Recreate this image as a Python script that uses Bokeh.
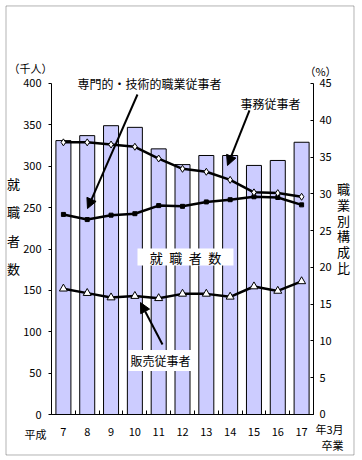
from bokeh.plotting import figure
from bokeh.models import Range1d, LinearAxis, FixedTicker, Label, Arrow, NormalHead, BoxAnnotation
from bokeh.embed import file_html
from bokeh.resources import INLINE

# ---- data ----
years = [7, 8, 9, 10, 11, 12, 13, 14, 15, 16, 17]
year_labels = ["7", "8", "9", "10", "11", "12", "13", "14", "15", "16", "17"]
employed = [331, 337, 349, 347, 321, 302, 313, 313, 301, 307, 329]          # 千人
jimu = [37.0, 37.0, 36.7, 36.4, 34.8, 33.4, 33.0, 31.9, 30.2, 30.1, 29.6]    # 事務従事者 %
senmon = [27.2, 26.5, 27.1, 27.3, 28.4, 28.3, 28.9, 29.2, 29.6, 29.5, 28.5]  # 専門的・技術的 %
hanbai = [17.1, 16.5, 15.9, 16.1, 15.8, 16.4, 16.4, 16.0, 17.4, 16.8, 18.1]  # 販売従事者 %
left_ticks = [0, 50, 100, 150, 200, 250, 300, 350, 400]
right_ticks = [0, 5, 10, 15, 20, 25, 30, 35, 40, 45]

FONT = "Noto Sans CJK JP"

# The frame covers the whole canvas; axes are placed with fixed_location/bounds
p = figure(width=358, height=458, output_backend="svg", toolbar_location=None, title=None,
           x_range=Range1d(4.3588, 19.389), y_range=Range1d(-53.17, 500.3),
           min_border=0, min_border_left=0, min_border_right=0,
           min_border_top=0, min_border_bottom=0)
p.outline_line_color = None
p.grid.visible = False
p.background_fill_color = "white"
p.border_fill_color = "white"
p.extra_y_ranges = {"pct": Range1d(-5.982, 56.284)}

# x axis
xa = p.xaxis[0]
xa.fixed_location = 0
xa.bounds = (6.5, 17.5)
xa.ticker = FixedTicker(ticks=years, minor_ticks=[y - 0.5 for y in years] + [years[-1] + 0.5])
xa.major_label_overrides = {y: l for y, l in zip(years, year_labels)}
xa.major_tick_line_color = None
xa.major_tick_out = 0
xa.major_tick_in = 0
xa.minor_tick_in = 4
xa.minor_tick_out = 0
xa.minor_tick_line_color = "black"
xa.major_label_standoff = 13

# left axis
ya = p.yaxis[0]
ya.fixed_location = 6.5
ya.bounds = (0, 400)
ya.ticker = FixedTicker(ticks=left_ticks)
ya.major_tick_out = 3
ya.major_tick_in = 0
ya.minor_tick_line_color = None
ya.major_label_standoff = 7

# right axis
ra = LinearAxis(y_range_name="pct", ticker=FixedTicker(ticks=right_ticks))
ra.fixed_location = 17.5
ra.bounds = (0, 45)
ra.major_tick_in = 3
ra.major_tick_out = 0
ra.minor_tick_line_color = None
ra.major_label_standoff = 6
p.add_layout(ra, "right")

for ax in (xa, ya, ra):
    ax.major_label_text_font = FONT
    ax.major_label_text_font_size = "11px"
    ax.major_label_text_color = "black"
    ax.axis_line_color = "black"
    ax.major_tick_line_color = ax.major_tick_line_color and "black"

# bars
p.vbar(x=years, top=employed, width=0.63, fill_color="#CCCCFF", line_color="black", line_width=1)

# lines
LW = 2.5
p.line(years, senmon, y_range_name="pct", line_color="black", line_width=LW)
p.scatter(years, senmon, y_range_name="pct", marker="square", size=4, fill_color="black", line_color="black")
p.line(years, jimu, y_range_name="pct", line_color="black", line_width=LW)
p.scatter(years, jimu, y_range_name="pct", marker="diamond", size=7, fill_color="white", line_color="black", line_width=1)
p.line(years, hanbai, y_range_name="pct", line_color="black", line_width=LW)
p.scatter(years, hanbai, y_range_name="pct", marker="triangle", size=8, fill_color="white", line_color="black", line_width=1)

# white box behind 就職者数
p.add_layout(BoxAnnotation(left=10.11, right=14.14, bottom=180.1, top=200.6,
                           fill_color="white", fill_alpha=1, line_color=None))

def lab(x, y, t, size="12px", align="left", **kw):
    p.add_layout(Label(x=x, y=y, text=t, text_font=FONT, text_font_size=size,
                       text_align=align, text_baseline="middle", text_color="black", **kw))

lab(12.126, 190.3, "就\u2002職\u2002者\u2002数", size="13px", align="center")
lab(4.695, 419.3, "（千人）", size="11px")
lab(17.121, 415.7, "（%）", size="11px")
lab(7.59, 400.0, "専門的・技術的職業従事者")
lab(14.435, 375.8, "事務従事者")
lab(9.733, 65.3, "販売従事者", background_fill_color="white", padding=2)
lab(5.367, -23.0, "平成", size="11px")
lab(18.76, -18.1, "年3月", size="11px", align="right")
lab(18.76, -36.3, "卒業", size="11px", align="right")

for i, ch in enumerate("就職者数"):
    lab(4.905, 279.2 - i * 34.3, ch, size="13px", align="center")
for i, ch in enumerate("職業別構成比"):
    lab(18.759, 273.1 - i * 19.1, ch, size="13px", align="center")

# arrows
arrows = [((10.110, 386.7), (8.011, 248.9)),
          ((14.812, 367.4), (13.889, 300.9)),
          ((11.160, 84.6), (10.236, 135.3))]
for (xs, ys), (xe, ye) in arrows:
    p.add_layout(Arrow(x_start=xs, y_start=ys, x_end=xe, y_end=ye, line_width=2, line_color="black",
                       end=NormalHead(size=10, fill_color="black", line_color="black")))

# outer border
p.add_layout(BoxAnnotation(left=4.590, right=19.200, top=493.7, bottom=-48.94,
                           fill_alpha=0, line_color="black", line_width=1))

open("out.html", "w").write(file_html(p, INLINE))
